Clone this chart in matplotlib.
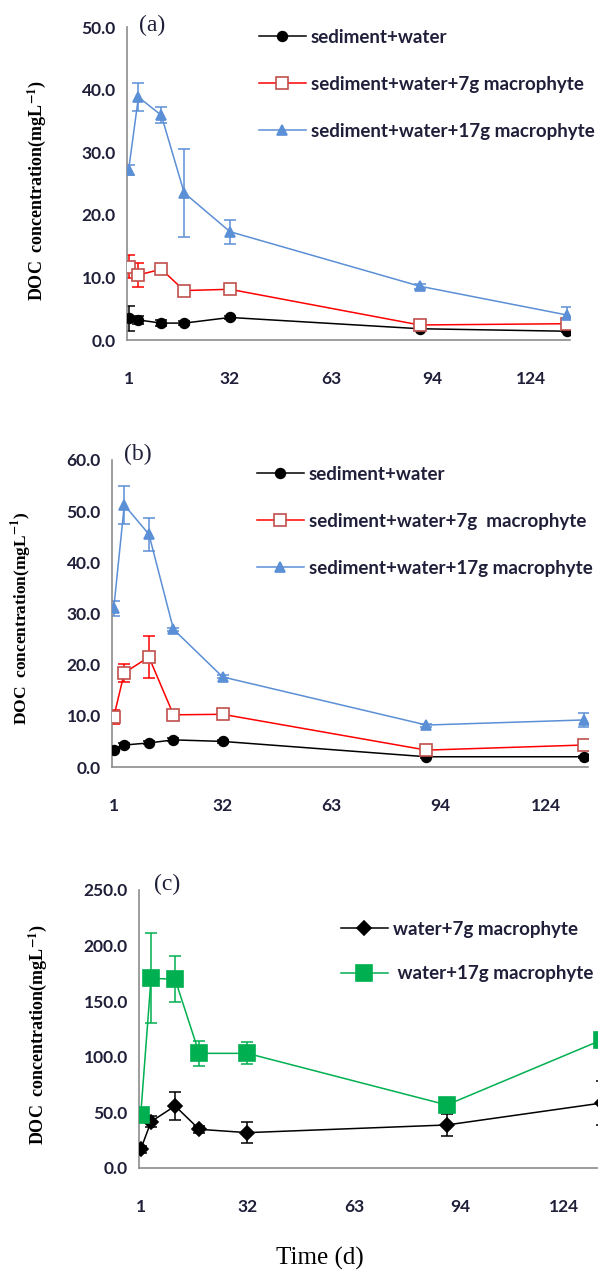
import matplotlib
matplotlib.use("Agg")
import matplotlib.pyplot as plt

plt.rcParams["mathtext.fontset"] = "stix"

# sampling days
days = [1, 4, 11, 18, 32, 90, 135]
tick_pos = [1, 32, 63, 94, 124]
tick_labels = ["1", "32", "63", "94", "124"]

# panel (a)
a_sw = [3.5, 3.2, 2.7, 2.7, 3.6, 1.8, 1.4]
a_sw_err = [2.0, 0.6, 0.5, 0.3, 0.3, 0.2, 0.2]
a_7g = [11.7, 10.4, 11.3, 7.9, 8.1, 2.4, 2.6]
a_7g_err = [1.8, 1.9, 0.4, 0.3, 0.3, 0.2, 0.2]
a_17g = [27.2, 38.8, 35.9, 23.5, 17.3, 8.6, 4.0]
a_17g_err = [0.8, 2.2, 1.3, 7.0, 1.9, 0.4, 1.2]

# panel (b)
b_sw = [3.4, 4.3, 4.7, 5.3, 5.0, 2.0, 2.0]
b_sw_err = [0.3, 0.3, 0.3, 0.3, 0.3, 0.2, 0.2]
b_7g = [9.8, 18.4, 21.5, 10.2, 10.3, 3.3, 4.3]
b_7g_err = [1.3, 1.8, 4.2, 0.4, 0.6, 0.4, 0.6]
b_17g = [31.0, 51.2, 45.5, 26.9, 17.6, 8.2, 9.2]
b_17g_err = [1.5, 3.7, 3.2, 0.3, 0.3, 0.3, 1.4]

# panel (c)
c_7g = [16.8, 41.7, 55.8, 34.8, 31.8, 38.7, 58.4]
c_7g_err = [3.0, 5.0, 12.4, 3.0, 9.7, 9.6, 20.0]
c_17g = [47.7, 170.6, 169.7, 103.1, 103.1, 56.7, 115.1]
c_17g_err = [2.0, 40.5, 20.7, 11.4, 10.0, 2.0, 3.0]

W, H = 598, 1273
fig = plt.figure(figsize=(W / 100, H / 100), dpi=100)

def px_axes(left, top, right, bottom):
    return fig.add_axes([left / W, 1 - bottom / H, (right - left) / W, (bottom - top) / H])

tick_font = dict(family="Lato", weight="bold", size=12.5, color="#1f1f3a")
serif = "Liberation Serif"
blue = "#5b8fd6"
green = "#00b050"


def style_axes(ax, ymax, ystep):
    ax.set_xlim(0.5, 136)
    ax.set_ylim(0, ymax)
    ax.set_yticks([i * ystep for i in range(int(ymax / ystep) + 1)])
    ax.set_yticklabels(["%.1f" % (i * ystep) for i in range(int(ymax / ystep) + 1)], **tick_font)
    ax.set_xticks(tick_pos)
    ax.set_xticklabels(tick_labels, **tick_font)
    ax.tick_params(length=0, pad=8)
    ax.tick_params(axis="x", pad=22)
    for s in ["top", "right"]:
        ax.spines[s].set_visible(False)
    for s in ["left", "bottom"]:
        ax.spines[s].set_color("#8c8c8c")
        ax.spines[s].set_linewidth(1.2)
    ax.patch.set_alpha(0)


def series(ax, y, err, color, marker, ms, label, mfc=None, mec=None):
    ax.errorbar(days, y, yerr=err, fmt="none", ecolor=color, elinewidth=1.1,
                capsize=4, capthick=1.1, zorder=2)
    h, = ax.plot(days, y, color=color, lw=1.1, marker=marker, ms=ms,
                 mfc=mfc if mfc else color, mec=mec if mec else color,
                 mew=1.2, label=label, zorder=3)
    return h


def legend(ax, x, y, spacing, handlelen=2.5):
    leg = ax.legend(loc="upper left", bbox_to_anchor=(x / W, 1 - y / H),
                    bbox_transform=fig.transFigure, frameon=False,
                    prop=dict(family="Lato", weight="bold", size=13.5),
                    handlelength=handlelen, handletextpad=0.25,
                    labelspacing=spacing, borderpad=0, borderaxespad=0,
                    numpoints=1)
    for t in leg.get_texts():
        t.set_color("#1f1f3a")


ylab = r"DOC  concentration(mgL$^{\mathbf{-1}}$)"

# (a)
ax1 = px_axes(127, 27, 570, 340)
style_axes(ax1, 50, 10)
series(ax1, a_sw, a_sw_err, "black", "o", 7, "sediment+water")
series(ax1, a_7g, a_7g_err, "red", "s", 8, "sediment+water+7g macrophyte",
       mfc="white", mec="#c0504d")
series(ax1, a_17g, a_17g_err, blue, "^", 7.5, "sediment+water+17g macrophyte")
legend(ax1, 259, 29, 1.6)
fig.text(152 / W, 1 - 25 / H, "(a)", family=serif, size=17, ha="center", va="center", color="#1f1f3a")
fig.text(37 / W, 1 - 190 / H, ylab, family=serif, weight="bold", size=13,
         rotation=90, ha="center", va="center")

# (b)
ax2 = px_axes(112, 460, 588, 767)
style_axes(ax2, 60, 10)
series(ax2, b_sw, b_sw_err, "black", "o", 7, "sediment+water")
series(ax2, b_7g, b_7g_err, "red", "s", 8, "sediment+water+7g  macrophyte",
       mfc="white", mec="#c0504d")
series(ax2, b_17g, b_17g_err, blue, "^", 7.5, "sediment+water+17g macrophyte")
legend(ax2, 257, 466, 1.6)
fig.text(138 / W, 1 - 454 / H, "(b)", family=serif, size=17, ha="center", va="center", color="#1f1f3a")
fig.text(22 / W, 1 - 618 / H, ylab, family=serif, weight="bold", size=12.5,
         rotation=90, ha="center", va="center")

# (c)
ax3 = px_axes(139, 890, 605, 1168)
style_axes(ax3, 250, 50)
series(ax3, c_7g, c_7g_err, "black", "D", 7.5, "water+7g macrophyte")
series(ax3, c_17g, c_17g_err, green, "s", 11, " water+17g macrophyte")
legend(ax3, 341, 921, 1.45)
fig.text(167 / W, 1 - 884 / H, "(c)", family=serif, size=17, ha="center", va="center", color="#1f1f3a")
fig.text(38 / W, 1 - 1034 / H, ylab, family=serif, weight="bold", size=13,
         rotation=90, ha="center", va="center")

fig.text(320 / W, 1 - 1258 / H, "Time (d)", family=serif, size=18, ha="center", va="center")

fig.savefig("out.png", dpi=100)
